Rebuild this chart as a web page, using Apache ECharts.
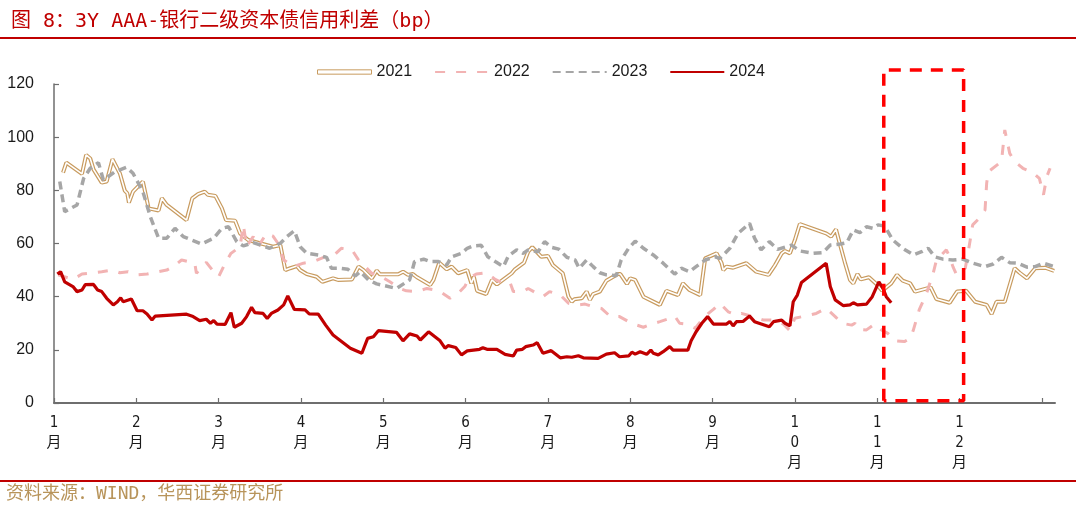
<!DOCTYPE html>
<html>
<head>
<meta charset="utf-8">
<script src="https://cdn.jsdelivr.net/npm/echarts@6/dist/echarts.min.js"></script>
<style>
html,body{margin:0;padding:0;background:#fff;}
#c{width:1080px;height:509px;}
</style>
</head>
<body>
<div id="c"></div>
<script>
// x = position in months from Jan 1 (0..12), y = spread in bp
var monthLabels = ['1','2','3','4','5','6','7','8','9','10','11','12'];
var yTicks = [0, 20, 40, 60, 80, 100, 120];
var seriesNames = ['2021', '2022', '2023', '2024'];

var d2021 = [[0.11,86.7],[0.15,90.4],[0.34,86.2],[0.39,93.3],[0.44,92.0],[0.48,87.9],[0.58,82.9],[0.64,83.3],[0.71,91.7],[0.80,86.4],[0.86,79.9],[0.89,78.9],[0.91,75.4],[0.96,79.5],[1.08,83.3],[1.15,73.2],[1.27,72.4],[1.31,77.0],[1.37,74.5],[1.61,68.8],[1.68,77.0],[1.75,78.6],[1.83,79.5],[1.87,78.3],[1.96,77.9],[2.04,73.2],[2.09,68.8],[2.20,68.6],[2.26,63.8],[2.36,61.3],[2.48,60.3],[2.66,58.8],[2.75,59.4],[2.81,50.0],[2.87,50.7],[2.95,51.5],[2.99,50.0],[3.07,48.5],[3.19,47.5],[3.26,45.6],[3.39,46.9],[3.45,46.3],[3.62,46.5],[3.70,51.3],[3.76,50.0],[3.86,46.9],[3.92,49.8],[3.96,48.4],[4.18,48.4],[4.24,49.4],[4.30,48.2],[4.36,48.5],[4.41,47.3],[4.57,44.4],[4.61,46.3],[4.68,52.8],[4.77,50.3],[4.83,51.3],[4.91,48.8],[5.02,50.0],[5.07,45.0],[5.10,47.5],[5.14,42.2],[5.25,41.0],[5.32,46.3],[5.38,44.6],[5.56,48.8],[5.60,50.3],[5.71,52.8],[5.76,56.9],[5.81,58.6],[5.92,55.0],[6.00,55.3],[6.06,51.9],[6.18,48.8],[6.25,40.0],[6.29,38.1],[6.32,39.0],[6.41,39.4],[6.47,41.9],[6.51,38.8],[6.55,41.0],[6.63,41.9],[6.71,46.0],[6.85,48.5],[6.88,48.5],[6.96,44.8],[7.00,46.9],[7.06,46.3],[7.16,40.0],[7.36,36.9],[7.44,42.2],[7.58,40.6],[7.64,45.0],[7.72,42.5],[7.85,40.6],[7.91,54.4],[8.05,56.3],[8.11,52.6],[8.13,50.0],[8.17,51.3],[8.25,50.9],[8.41,52.6],[8.53,49.4],[8.68,48.2],[8.76,51.9],[8.84,56.3],[8.88,57.2],[8.94,56.3],[9.00,61.3],[9.06,67.3],[9.38,63.8],[9.44,62.6],[9.50,65.3],[9.55,59.4],[9.61,52.6],[9.67,46.3],[9.71,45.0],[9.76,48.5],[9.80,46.5],[9.90,47.3],[9.99,44.8],[10.06,42.2],[10.11,43.5],[10.17,45.0],[10.24,48.2],[10.31,46.0],[10.40,45.0],[10.46,41.9],[10.65,43.5],[10.72,39.1],[10.88,37.7],[10.97,41.9],[11.08,42.2],[11.19,38.1],[11.33,36.9],[11.39,33.5],[11.45,38.1],[11.55,38.1],[11.67,50.7],[11.73,49.0],[11.82,46.9],[11.92,50.7],[12.04,50.9],[12.15,49.7]];

var d2022 = [[0.05,48.2],[0.23,46.5],[0.34,48.5],[0.58,49.4],[0.70,50.0],[0.80,49.0],[0.90,49.4],[1.00,48.2],[1.13,48.5],[1.27,49.4],[1.37,50.0],[1.45,51.3],[1.55,53.8],[1.63,53.2],[1.71,52.6],[1.73,48.8],[1.85,52.9],[1.94,49.4],[2.00,47.5],[2.08,52.6],[2.15,56.3],[2.26,58.8],[2.30,67.0],[2.34,58.8],[2.42,62.6],[2.48,58.8],[2.58,63.8],[2.66,62.8],[2.72,60.1],[2.79,53.8],[2.91,51.3],[3.03,52.6],[3.15,53.2],[3.29,55.0],[3.39,55.3],[3.49,58.2],[3.62,57.6],[3.70,53.8],[3.78,51.3],[3.86,48.8],[3.96,47.8],[4.08,45.6],[4.20,43.1],[4.28,42.2],[4.41,41.9],[4.53,43.1],[4.63,42.5],[4.69,41.9],[4.81,39.4],[4.91,41.3],[4.99,43.8],[5.04,46.9],[5.13,48.5],[5.25,49.0],[5.36,46.5],[5.46,45.0],[5.54,45.3],[5.58,41.9],[5.70,41.9],[5.76,43.1],[5.86,41.3],[5.94,40.0],[6.02,41.9],[6.15,40.6],[6.25,37.5],[6.37,36.9],[6.45,37.2],[6.55,36.2],[6.65,35.6],[6.76,32.5],[6.87,32.5],[6.98,30.6],[7.08,29.3],[7.16,28.5],[7.26,29.7],[7.36,30.6],[7.46,31.6],[7.54,32.7],[7.60,30.0],[7.68,29.7],[7.79,28.1],[7.87,31.2],[7.95,33.7],[8.01,35.2],[8.09,37.5],[8.19,34.3],[8.29,33.1],[8.35,33.7],[8.49,32.5],[8.62,31.2],[8.74,31.2],[8.86,29.7],[8.94,27.2],[9.00,31.9],[9.12,32.7],[9.26,33.7],[9.38,35.6],[9.49,32.5],[9.57,30.0],[9.69,29.3],[9.73,30.0],[9.77,27.7],[9.87,27.5],[9.97,29.7],[10.05,27.5],[10.13,26.2],[10.22,23.4],[10.33,23.1],[10.40,24.3],[10.44,27.5],[10.51,35.0],[10.60,41.3],[10.68,48.8],[10.72,53.8],[10.84,57.6],[10.88,55.0],[10.92,51.3],[10.96,48.5],[11.07,50.7],[11.11,57.6],[11.16,67.0],[11.24,69.5],[11.31,72.6],[11.33,82.7],[11.35,87.0],[11.51,90.8],[11.55,102.7],[11.61,93.9],[11.67,90.8],[11.77,88.3],[11.89,86.7],[11.97,84.5],[12.02,78.3],[12.06,85.1],[12.10,88.3]];

var d2023 = [[0.07,83.3],[0.13,72.0],[0.28,74.5],[0.36,84.5],[0.44,88.3],[0.54,90.4],[0.60,83.9],[0.74,87.0],[0.88,88.7],[0.96,86.4],[1.08,79.5],[1.17,70.1],[1.27,62.0],[1.37,62.0],[1.47,65.7],[1.57,62.6],[1.69,61.1],[1.79,59.8],[1.94,62.0],[2.04,65.7],[2.12,66.3],[2.22,60.7],[2.30,59.1],[2.42,60.3],[2.54,59.1],[2.62,58.2],[2.75,60.1],[2.83,62.6],[2.92,64.8],[2.99,58.8],[3.07,56.3],[3.21,55.7],[3.31,54.8],[3.37,50.7],[3.47,50.7],[3.57,50.3],[3.66,47.8],[3.72,49.4],[3.82,46.3],[3.92,44.8],[4.02,44.1],[4.16,43.1],[4.32,46.3],[4.38,53.2],[4.49,54.1],[4.57,53.2],[4.67,53.2],[4.77,51.9],[4.83,55.0],[4.95,56.3],[5.02,58.2],[5.09,59.1],[5.19,59.3],[5.27,55.0],[5.36,53.2],[5.46,51.3],[5.52,55.3],[5.62,57.6],[5.70,56.3],[5.76,57.6],[5.88,56.9],[5.96,60.7],[6.04,58.6],[6.13,57.9],[6.23,54.8],[6.33,53.8],[6.38,50.7],[6.47,53.8],[6.55,51.3],[6.63,49.0],[6.71,48.2],[6.83,47.9],[6.89,53.8],[6.98,58.2],[7.06,60.9],[7.16,58.2],[7.28,55.7],[7.40,52.6],[7.54,48.5],[7.62,50.7],[7.72,49.4],[7.80,51.3],[7.91,53.8],[8.03,55.0],[8.09,54.4],[8.21,58.2],[8.31,63.8],[8.45,67.6],[8.51,62.0],[8.59,57.6],[8.69,60.7],[8.79,57.8],[8.96,59.4],[9.06,57.2],[9.22,56.3],[9.34,56.6],[9.43,59.4],[9.55,59.8],[9.63,60.3],[9.71,65.1],[9.79,64.1],[9.87,66.3],[9.95,65.7],[10.01,67.0],[10.09,66.6],[10.19,61.3],[10.31,58.2],[10.44,55.7],[10.54,56.9],[10.62,58.2],[10.70,55.0],[10.80,54.1],[10.92,53.8],[11.04,54.1],[11.16,52.6],[11.31,51.3],[11.41,52.3],[11.51,54.8],[11.61,52.8],[11.71,52.6],[11.82,51.1],[11.92,51.3],[12.02,52.6],[12.15,51.3]];

var d2024 = [[0.04,48.5],[0.08,49.4],[0.13,45.6],[0.23,43.8],[0.28,41.9],[0.34,42.5],[0.38,44.5],[0.48,44.6],[0.53,42.5],[0.58,41.9],[0.64,39.4],[0.72,36.9],[0.77,38.1],[0.81,39.6],[0.84,38.1],[0.94,39.1],[1.01,34.7],[1.08,34.7],[1.13,33.5],[1.19,31.2],[1.23,32.7],[1.61,33.4],[1.69,32.5],[1.77,31.0],[1.85,31.5],[1.90,30.0],[1.94,31.0],[1.98,29.7],[2.08,29.6],[2.15,34.0],[2.19,28.5],[2.28,30.0],[2.34,32.5],[2.40,36.0],[2.44,34.0],[2.54,33.7],[2.59,31.8],[2.64,33.7],[2.72,35.0],[2.79,36.9],[2.84,40.3],[2.92,35.2],[3.05,35.0],[3.10,33.5],[3.21,33.4],[3.30,29.3],[3.39,25.6],[3.60,20.6],[3.74,18.7],[3.81,24.3],[3.88,24.9],[3.94,27.2],[4.16,26.6],[4.24,23.4],[4.32,26.0],[4.41,25.2],[4.45,23.7],[4.55,26.8],[4.69,23.4],[4.75,20.6],[4.79,21.6],[4.88,20.9],[4.95,18.1],[5.02,19.6],[5.17,20.2],[5.21,20.8],[5.26,20.2],[5.38,20.2],[5.48,18.3],[5.58,17.7],[5.62,19.9],[5.69,20.2],[5.73,21.2],[5.82,21.8],[5.87,22.7],[5.94,18.7],[6.04,19.7],[6.15,17.0],[6.23,17.4],[6.29,17.2],[6.37,17.8],[6.43,17.0],[6.61,16.8],[6.71,18.4],[6.81,18.9],[6.87,17.4],[6.98,17.7],[7.02,19.1],[7.06,18.4],[7.12,19.3],[7.20,18.3],[7.25,19.9],[7.28,18.7],[7.34,18.1],[7.40,19.3],[7.48,21.2],[7.52,19.9],[7.70,19.9],[7.74,23.4],[7.80,26.8],[7.87,30.0],[7.94,32.5],[8.01,29.7],[8.17,29.7],[8.21,30.7],[8.25,29.0],[8.29,30.6],[8.37,30.7],[8.45,32.7],[8.51,30.6],[8.69,28.7],[8.74,30.6],[8.84,31.2],[8.88,30.0],[8.94,29.0],[8.98,38.1],[9.03,40.6],[9.08,45.3],[9.38,52.6],[9.43,43.8],[9.49,38.8],[9.59,36.6],[9.67,36.9],[9.71,37.7],[9.76,36.9],[9.87,37.2],[9.94,40.0],[10.02,45.6],[10.07,43.1],[10.11,40.0],[10.17,37.7]];

// highlighted window (November), in axis units
var boxX = [10.08, 11.05];
var boxY = [0.8, 125.3];

var C2021 = '#C89B5F', C2022 = '#F2B3B3', C2023 = '#A6A6A6', C2024 = '#C00000';
var boxData = [[boxX[0],boxY[0]],[boxX[0],boxY[1]],[boxX[1],boxY[1]],[boxX[1],boxY[0]],[boxX[0],boxY[0]]];

var chart = echarts.init(document.getElementById('c'), null, {renderer: 'canvas'});
var latin = "'Liberation Sans', Arial, 'Noto Sans CJK SC', sans-serif";
var monoCJK = "'DejaVu Sans Mono', 'Noto Sans CJK SC', monospace";
var narrow = "'Liberation Sans Narrow', 'DejaVu Sans Condensed', 'Liberation Sans', 'Noto Sans CJK SC', sans-serif";

var option = {
  animation: false,
  backgroundColor: '#ffffff',
  title: {
    text: '图 8：3Y AAA-银行二级资本债信用利差（bp）',
    left: 6, top: 7,
    textStyle: {color: '#C00000', fontSize: 20, fontWeight: 'normal', fontFamily: monoCJK}
  },
  graphic: [
    {type: 'line', shape: {x1: 0, y1: 38, x2: 1076, y2: 38}, style: {stroke: '#C00000', lineWidth: 2}},
    {type: 'line', shape: {x1: 0, y1: 481, x2: 1076, y2: 481}, style: {stroke: '#C00000', lineWidth: 2}},
    {type: 'text', left: 6, top: 485, style: {text: '资料来源：WIND，华西证券研究所', fill: '#B8945A', fontSize: 18, fontFamily: monoCJK}}
  ],
  legend: {
    left: 312, top: 59,
    itemWidth: 54, itemHeight: 14, itemGap: 22,
    itemStyle: {opacity: 0},
    textStyle: {fontSize: 16, color: '#1a1a1a', fontFamily: latin},
    data: [
      {name: seriesNames[0], icon: 'path://M0,0H100V8H0Z', itemStyle: {opacity: 1, color: '#ffffff', borderColor: C2021, borderWidth: 1}},
      seriesNames[1], seriesNames[2], seriesNames[3]
    ]
  },
  grid: {left: 54, right: 25, top: 84, bottom: 106, containLabel: false},
  xAxis: {
    type: 'value', min: 0, max: 12.16, interval: 1,
    splitLine: {show: false},
    axisLine: {show: true, lineStyle: {color: '#6e6e6e', width: 2}},
    axisTick: {show: true, inside: true, length: 5, lineStyle: {color: '#6e6e6e', width: 1.2},
      customValues: [0,1,2,3,4,5,6,7,8,9,10,11,12]},
    axisLabel: {
      customValues: [0,1,2,3,4,5,6,7,8,9,10,11],
      margin: 10, color: '#1a1a1a',
      rich: {m: {fontSize: 15, lineHeight: 20, color: '#1a1a1a', fontFamily: narrow}},
      formatter: function (v) {
        var i = Math.round(v);
        var s = monthLabels[i];
        if (s === undefined) return '';
        var parts = s.split('').concat(['月']);
        return parts.map(function (p) { return '{m|' + p + '}'; }).join('\n');
      }
    }
  },
  yAxis: {
    type: 'value', min: yTicks[0], max: yTicks[yTicks.length - 1], interval: yTicks[1] - yTicks[0],
    splitLine: {show: false},
    axisLine: {show: true, lineStyle: {color: '#6e6e6e', width: 1.5}},
    axisTick: {show: true, inside: true, length: 5, lineStyle: {color: '#6e6e6e', width: 1.2}},
    axisLabel: {margin: 20, fontSize: 16, color: '#1a1a1a', fontFamily: latin}
  },
  series: [
    {name: seriesNames[0], type: 'line', data: d2021, symbol: 'none', z: 2,
     lineStyle: {color: C2021, width: 4}, itemStyle: {color: C2021}},
    {name: '2021_inner', type: 'line', data: d2021, symbol: 'none', z: 2, silent: true,
     lineStyle: {color: '#ffffff', width: 1.6}, itemStyle: {color: '#ffffff'}},
    {name: seriesNames[1], type: 'line', data: d2022, symbol: 'none', z: 3,
     lineStyle: {color: C2022, width: 3, type: [10, 11]}, itemStyle: {color: C2022}},
    {name: seriesNames[2], type: 'line', data: d2023, symbol: 'none', z: 3,
     lineStyle: {color: C2023, width: 3.5, type: [8, 5]}, itemStyle: {color: C2023}},
    {name: seriesNames[3], type: 'line', data: d2024, symbol: 'none', z: 4,
     lineStyle: {color: C2024, width: 3.2}, itemStyle: {color: C2024}},
    {name: 'window', type: 'line', data: boxData, symbol: 'none', z: 5, clip: false, silent: true,
     lineStyle: {color: '#FF0000', width: 3.5, type: [12, 9]}, itemStyle: {color: '#FF0000'}}
  ]
};
chart.setOption(option);
</script>
</body>
</html>
